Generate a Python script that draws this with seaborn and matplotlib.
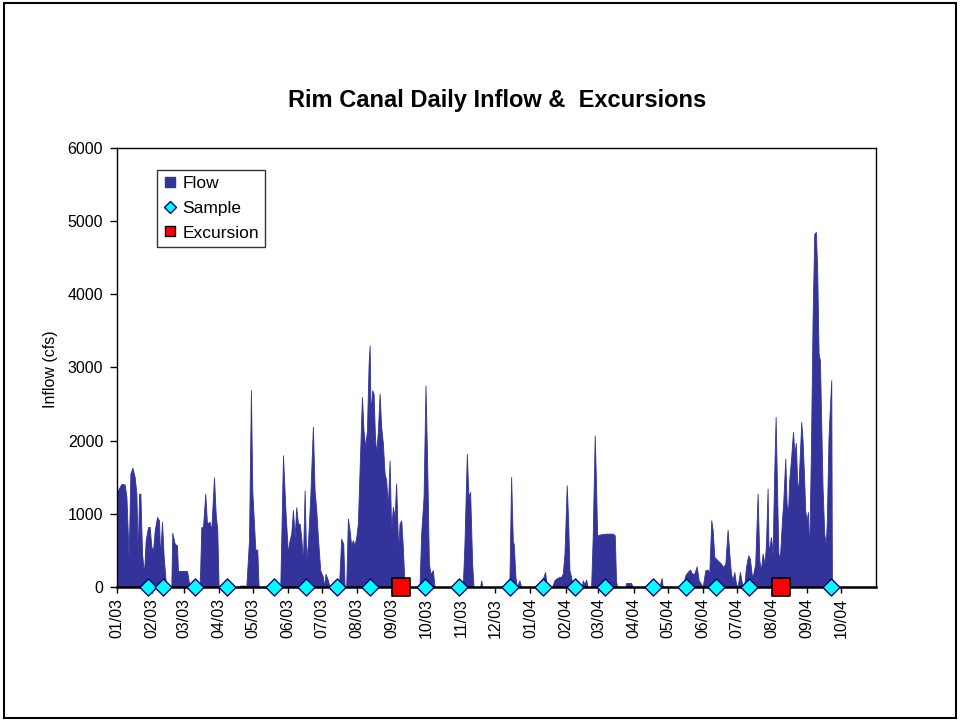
import pandas as pd
import matplotlib
matplotlib.use('Agg')
import matplotlib.pyplot as plt
import matplotlib.dates as mdates
from matplotlib.lines import Line2D
from matplotlib.patches import Rectangle
import seaborn as sns

# daily inflow: day since 1 Jan 2003 -> cfs
flow_day = [
    0, 3.9, 6.8, 8.3, 10.3, 11.8, 13.6, 15.6, 17.1, 18.3, 19.4, 20.6, 22.1, 23.8, 25.3,
    27.4, 28.8, 30.3, 31.8, 33.3, 35.3, 37.1, 38.0, 39.7, 41.2, 42.9, 44.1, 47.9, 48.8, 50.9,
    52.9, 53.8, 61.8, 64.1, 73.0, 74.4, 75.9, 77.9, 79.4, 81.8, 83.2, 85.6, 87.1, 88.5, 89.7,
    108.2, 109, 112.7, 114.1, 116.5, 118.2, 119.4, 120.9, 122.1, 123.8, 125.0, 144.1, 146.5, 148.8, 150.9,
    152.3, 153.8, 155.3, 156.8, 158.2, 159.7, 161.2, 162.6, 164.1, 165.6, 167.0, 168.5, 170.6, 172.9, 174.4,
    175.9, 177.3, 179.4, 181.8, 182.6, 184.1, 186.2, 187.6, 195.9, 197.9, 199.7, 200.9, 202.3, 203.8, 205.3,
    206.7, 208.2, 209.7, 211.2, 212.6, 214.1, 216.2, 217.6, 219.1, 220.6, 222.1, 223.0, 223.8, 225.3, 226.5,
    227.7, 228.8, 230.3, 231.8, 233.2, 234.7, 236.2, 237.6, 239.1, 240.6, 242.0, 243.5, 245.0, 246.4, 248.2,
    249.4, 250.9, 252.3, 253.8, 258.2, 259.0, 267.0, 268.5, 270.6, 272.3, 273.8, 275.3, 276.7, 278.8, 280.3,
    305.2, 306.7, 308.8, 310.2, 311.7, 313.5, 314.7, 320.5, 321.5, 322.5, 342.0, 342.9, 345.0, 346.4, 347.9,
    349.4, 350.2, 351.7, 352.9, 355.2, 356.7, 374.4, 376.4, 377.9, 379.4, 384.1, 386.1, 387.6, 390.5, 392.0,
    393.5, 395.0, 397.0, 398.2, 399.4, 400.8, 402.3, 405.2, 406.0, 410.5, 411.1, 412.6, 414.1, 415.5, 418.5, 419.9,
    421.7, 422.9, 423.8, 427.3, 431.7, 437.6, 439.4, 440.5, 441.4, 448.8, 449.3, 453.8, 455.2, 478.7, 480.8, 481.7,
    499.3, 501.7, 503.7, 505.8, 507.6, 509.6, 511.7, 513.5, 515.5, 517.0, 519.3, 521.4, 522.8, 524.6, 525.8,
    527.3, 530.2, 533.2, 535.2, 537.0, 539.0, 540.5, 542.0, 543.4, 544.9, 546.4, 547.8, 549.9, 551.7, 553.7,
    555.2, 557.2, 558.7, 560.5, 561.7, 563.4, 565.5, 567.0, 568.4, 569.9, 571.7, 572.9, 574.3, 575.2, 577.3,
    578.7, 580.2, 581.4, 582.6, 583.8, 585.2, 587.0, 588.2, 589.9, 591.1, 592.3, 593.4, 594.9, 596.7, 598.1,
    599.3, 600.5, 601.6, 602.8, 604.0, 605.2, 606.6, 607.5, 608.7, 609.9, 611.0, 612.5, 614.0, 615.5, 616.9,
    618.1, 619.3, 620.5, 621.6, 622.8, 624.3, 625.7, 626.6, 628.1, 629.3, 630.5, 631.1,
]
flow_cfs = [
    1300, 1410, 1400, 1230, 410, 1550, 1630, 1500, 1275, 410, 1275, 1275, 455, 180, 640,
    820, 820, 550, 500, 775, 955, 910, 410, 890, 410, 90, 0, 0, 740, 590,
    570, 220, 220, 0, 0, 820, 820, 1275, 865, 890, 775, 1500, 1000, 775, 0,
    0, 20, 20, 0, 640, 2690, 1320, 865, 510, 510, 0, 0, 1800, 1000, 455,
    640, 730, 1050, 680, 1090, 865, 865, 683, 320, 1320, 365, 590, 1230, 2190, 1320,
    1050, 683, 228, 137, 0, 180, 90, 0, 0, 660, 590, 0, 0, 934, 775,
    570, 638, 570, 683, 865, 1595, 2597, 2140, 1913, 2140, 3050, 3300, 2370, 2688, 2642,
    2050, 1822, 2140, 2642, 2187, 1960, 1550, 1460, 1093, 1730, 775, 1093, 957, 1412, 500,
    865, 911, 547, 20, 20, 0, 0, 730, 1230, 2756, 1685, 320, 180, 228, 0,
    0, 590, 1822, 1230, 1298, 320, 0, 0, 90, 0, 0, 45, 0, 90, 1503,
    615, 590, 137, 0, 91, 0, 0, 137, 205, 0, 0, 91, 114, 137, 137,
    182, 455, 1390, 911, 228, 137, 20, 20, 0, 0, 91, 40, 100, 0, 0, 683,
    2073, 1367, 706, 720, 729, 729, 706, 91, 0, 0, 55, 55, 0, 0, 123, 0,
    0, 160, 205, 237, 182, 182, 282, 91, 45, 0, 228, 237, 182, 911, 775,
    410, 364, 319, 273, 319, 784, 455, 182, 91, 205, 45, 0, 205, 45, 0,
    273, 433, 387, 137, 182, 319, 1276, 364, 228, 455, 319, 592, 1344, 455, 683,
    455, 1595, 2324, 1367, 455, 410, 911, 1185, 1754, 1139, 1002, 1458, 1731, 2119, 1822,
    1968, 1367, 1412, 1822, 2255, 2005, 1458, 1048, 911, 1025, 455, 1822, 3645, 4829, 4852,
    4328, 3189, 3098, 2278, 1367, 729, 569, 911, 2050, 2460, 2825, 0,
]

sample_dates = ['2003-01-28', '2003-02-11', '2003-03-11', '2003-04-08', '2003-05-20',
                '2003-06-17', '2003-07-14', '2003-08-12', '2003-09-30', '2003-10-30',
                '2003-12-14', '2004-01-12', '2004-02-09', '2004-03-07', '2004-04-18',
                '2004-05-17', '2004-06-13', '2004-07-12', '2004-09-22']
excursion_dates = ['2003-09-09', '2004-08-09']

month_ticks = pd.date_range('2003-01-01', '2004-10-01', freq='MS')
y_ticks = [0, 1000, 2000, 3000, 4000, 5000, 6000]

start = pd.Timestamp('2003-01-01')
flow = pd.DataFrame({'date': start + pd.to_timedelta(flow_day, unit='D'), 'cfs': flow_cfs})
samples = pd.DataFrame({'date': pd.to_datetime(sample_dates), 'cfs': 0})
excursions = pd.DataFrame({'date': pd.to_datetime(excursion_dates), 'cfs': 0})

sns.set_style('white')
plt.rcParams['font.family'] = ['Liberation Sans', 'DejaVu Sans']
plt.rcParams['text.color'] = 'black'
plt.rcParams['axes.labelcolor'] = 'black'
plt.rcParams['xtick.color'] = 'black'
plt.rcParams['ytick.color'] = 'black'

fig = plt.figure(figsize=(9.6, 7.21), dpi=100)
ax = fig.add_axes([0.1219, 0.1859, 0.7906, 0.6089])

navy = '#333399'
ax.fill_between(flow['date'], flow['cfs'], 0, color=navy, lw=0.6, zorder=1)

sns.scatterplot(data=samples, x='date', y='cfs', ax=ax, marker='D', s=75,
                color='#00FFFF', edgecolor='#000080', linewidth=1, clip_on=False, zorder=4)
sns.scatterplot(data=excursions, x='date', y='cfs', ax=ax, marker='s', s=160,
                color='#FF0000', edgecolor='black', linewidth=1.2, clip_on=False, zorder=5)

ax.set_xlim(start, pd.Timestamp('2004-11-01'))
ax.set_ylim(0, 6000)
ax.set_xticks(month_ticks)
ax.xaxis.set_major_formatter(mdates.DateFormatter('%m/%y'))
ax.set_yticks(y_ticks)
ax.tick_params(axis='x', rotation=90, labelsize=11.5, length=4, width=1, direction='out', pad=4)
ax.tick_params(axis='y', labelsize=11.5, length=5, width=1, direction='out', pad=5)
ax.tick_params(bottom=True, left=True)
ax.set_xlabel('')
ax.set_ylabel('Inflow (cfs)', fontsize=11.5)
ax.yaxis.set_label_coords(-0.078, 0.495)

for side in ['top', 'right', 'left']:
    ax.spines[side].set_color('black')
    ax.spines[side].set_linewidth(1)
ax.spines['bottom'].set_color('black')
ax.spines['bottom'].set_linewidth(1.8)
ax.spines['bottom'].set_zorder(3)

fig.text(0.518, 0.86, 'Rim Canal Daily Inflow &  Excursions', ha='center', va='center',
         fontsize=17, fontweight='bold', color='black')

handles = [
    Line2D([], [], marker='s', ls='', ms=6.5, color=navy, markeredgecolor=navy),
    Line2D([], [], marker='D', ls='', ms=6.5, color='#00FFFF', markeredgecolor='#000080'),
    Line2D([], [], marker='s', ls='', ms=6.5, color='#FF0000', markeredgecolor='black'),
]
leg = ax.legend(handles, ['Flow', 'Sample', 'Excursion'], loc='upper left',
                bbox_to_anchor=(0.0527, 0.95), borderaxespad=0, fontsize=12.5,
                handlelength=0.8, handletextpad=0.3, labelspacing=0.55,
                borderpad=0.35, frameon=True, fancybox=False)
leg.get_frame().set_edgecolor('black')
leg.get_frame().set_linewidth(1)

fig.add_artist(Rectangle((0.004, 0.004), 0.992, 0.992, transform=fig.transFigure,
                         fill=False, edgecolor='black', linewidth=1.5))

fig.savefig('out.png', dpi=100)
